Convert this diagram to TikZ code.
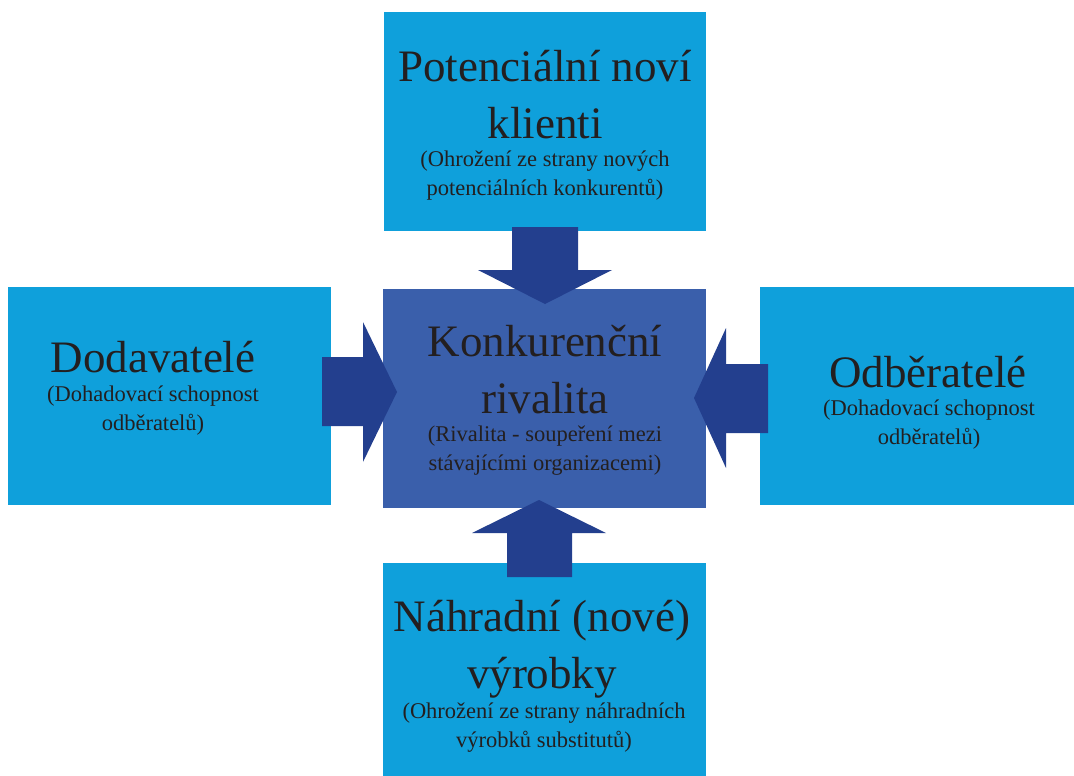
\documentclass[tikz,border=0pt]{standalone}
\usepackage{fontspec}
\setmainfont{Liberation Serif}
\usetikzlibrary{positioning}
\definecolor{boxblue}{HTML}{0FA0DB}
\definecolor{rivalblue}{HTML}{3A5FAB}
\definecolor{arrowblue}{HTML}{233F8E}
\definecolor{ink}{HTML}{231F20}
\tikzset{
every node/.style={inner sep=0pt, text=ink},
box/.style={rectangle, fill=boxblue, minimum width=8.05cm, minimum height=5.45cm},
title/.style={align=center, anchor=base, font=\fontsize{32}{40}\selectfont},
sub/.style={align=center, anchor=base, font=\fontsize{16}{20}\selectfont},
push/.style={fill=arrowblue}
}

\begin{document}
\begin{tikzpicture}[x=0.025cm,y=-0.025cm]
\useasboundingbox (0,0) rectangle (1074,776);

\node [box] (klienti) at (545,121.5) {};
\node [box] (dodavatele) at (169.5,396) {};
\node [box, minimum width=7.85cm] (odberatele) at (917,396) {};
\node [box, fill=rivalblue] (rivalita) at (544.5,398.5) {};
\node [box, minimum height=5.325cm] (nahrada) at (544.5,669.5) {};

\coordinate (ktip) at (545,304);
\coordinate (dtip) at (397,392);
\coordinate (otip) at (694,398);
\coordinate (ntip) at (539,500);

\fill[push] (ktip) -- ++(-67,-34) -- ++(34,0) -- ++(0,-43) -- ++(66,0) -- ++(0,43) -- ++(34,0) -- cycle;
\fill[push] (dtip) -- ++(-34,-70) -- ++(0,35) -- ++(-41,0) -- ++(0,69) -- ++(41,0) -- ++(0,36) -- cycle;
\fill[push] (otip) -- ++(32,-70) -- ++(0,36) -- ++(42,0) -- ++(0,69) -- ++(-42,0) -- ++(0,35) -- cycle;
\fill[push] (ntip) -- ++(-67,33) -- ++(35,0) -- ++(0,44) -- ++(65,0) -- ++(0,-44) -- ++(34,0) -- cycle;

% base = last line
\node [title] (ktitle) at (545,138) {Potenciální noví\\klienti};
\node [sub] (ksub) at (545,195) {(Ohrožení ze strany nových\\potenciálních konkurentů)};
\node [title] (dtitle) at (153,372) {Dodavatelé};
\node [sub] (dsub) at (153,430) {(Dohadovací schopnost\\odběratelů)};
\node [title] (otitle) at (928,387) {Odběratelé};
\node [sub] (osub) at (929,444) {(Dohadovací schopnost\\odběratelů)};
\node [title] (rtitle) at (545,413) {Konkurenční\\rivalita};
\node [sub] (rsub) at (545,470) {(Rivalita - soupeření mezi\\stávajícími organizacemi)};
\node [title] (ntitle) at (542,688) {Náhradní (nové)\\výrobky};
\node [sub] (nsub) at (544,747) {(Ohrožení ze strany náhradních\\výrobků substitutů)};
\end{tikzpicture}
\end{document}
